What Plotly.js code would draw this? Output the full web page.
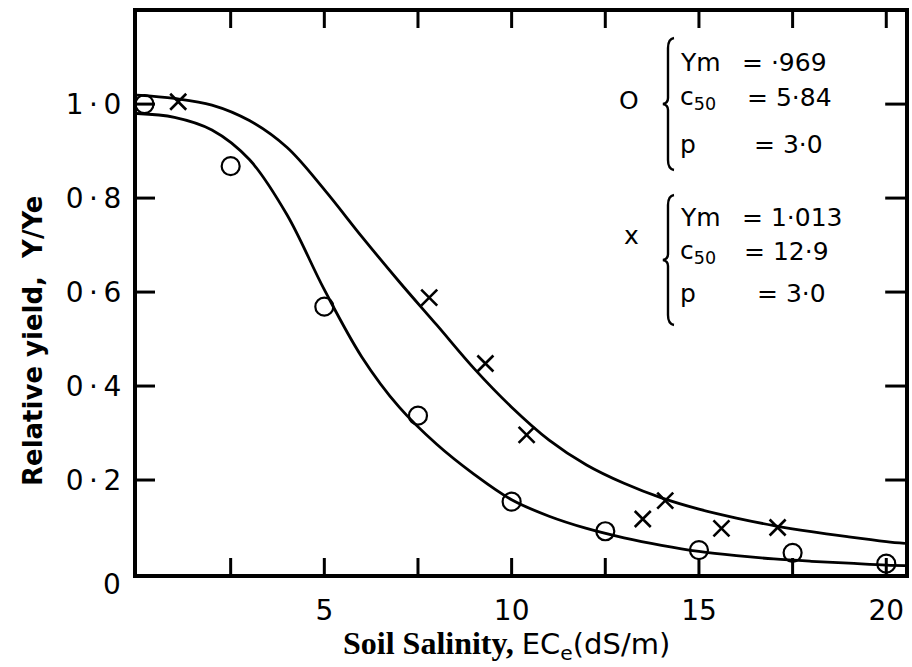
<!DOCTYPE html>
<html>
<head>
<meta charset="utf-8">
<script src="https://cdn.plot.ly/plotly-3.0.1.min.js"></script>
<style>html,body{margin:0;padding:0;background:#fff;}#chart{width:912px;height:667px;}</style>
</head>
<body>
<div id="chart"></div>
<script>
// ---- data ----
const circleX = [0.2, 2.5, 5.0, 7.5, 10.0, 12.5, 15.0, 17.5, 20.0];
const circleY = [1.00, 0.868, 0.569, 0.337, 0.154, 0.091, 0.051, 0.045, 0.022];

const crossX = [1.1, 7.8, 9.3, 10.4, 13.5, 14.1, 15.6, 17.1];
const crossY = [1.005, 0.588, 0.448, 0.296, 0.117, 0.156, 0.097, 0.099];

const fitCircleX = [0, 1, 2, 3, 4, 5, 6, 7, 8, 9, 10, 11, 12, 13, 14, 15, 16, 17, 18, 19, 20, 20.5];
const fitCircleY = [0.980, 0.972, 0.945, 0.882, 0.765, 0.605, 0.462, 0.355, 0.276, 0.212, 0.158, 0.123, 0.097, 0.077, 0.061, 0.048, 0.039, 0.032, 0.027, 0.023, 0.019, 0.018];

const fitCrossX = [0, 1, 2, 3, 4, 5, 6, 7, 8, 9, 10, 11, 12, 13, 14, 15, 16, 17, 18, 19, 20, 20.5];
const fitCrossY = [1.019, 1.012, 0.998, 0.965, 0.908, 0.818, 0.718, 0.622, 0.530, 0.437, 0.355, 0.285, 0.232, 0.193, 0.162, 0.138, 0.119, 0.103, 0.090, 0.079, 0.069, 0.065];

const xTickMarks = [2.5, 5, 7.5, 10, 12.5, 15, 17.5, 20];
const xTickVals = [5, 10, 15, 20];
const xTickText = ['5', '10', '15', '20'];
const yTickVals = [0.2, 0.4, 0.6, 0.8, 1.0];
const yTickText = ['0\u2009·\u20092', '0\u2009·\u20094', '0\u2009·\u20096', '0\u2009·\u20098', '1\u2009·\u20090'];

const xRange = [0, 20.5];
const yRange = [0, 1.196];

// ---- layout helpers (pixel -> paper) ----
const L = 137, R = 905, T = 12, B = 574;
const px = v => (v - L) / (R - L);
const py = v => (B - v) / (B - T);

const SANS = 'DejaVu Sans, sans-serif';

function txt(text, x, y, size, extra) {
  return Object.assign({
    text: text, xref: 'paper', yref: 'paper', x: px(x), y: py(y),
    xanchor: 'left', yanchor: 'middle', showarrow: false,
    font: {family: SANS, size: size, color: '#000'}
  }, extra || {});
}

function brace(x, y0, y1) {
  const ym = (y0 + y1) / 2;
  const X = v => px(v), Y = v => py(v);
  const path = `M ${X(x + 6)},${Y(y0)} Q ${X(x)},${Y(y0 + 1)} ${X(x)},${Y(y0 + 10)} ` +
    `L ${X(x)},${Y(ym - 6)} Q ${X(x)},${Y(ym - 1)} ${X(x - 5)},${Y(ym)} ` +
    `Q ${X(x)},${Y(ym + 1)} ${X(x)},${Y(ym + 6)} L ${X(x)},${Y(y1 - 10)} ` +
    `Q ${X(x)},${Y(y1 - 1)} ${X(x + 6)},${Y(y1)}`;
  return {type: 'path', xref: 'paper', yref: 'paper', path: path,
          line: {color: '#000', width: 2.4}};
}

// tick marks (inside, on all four sides) built from the tick arrays
const tickLenX = (xRange[1] - xRange[0]) * 18 / (R - L);   // horizontal tick length in x units
const tickLenY = (yRange[1] - yRange[0]) * 16 / (B - T);   // vertical tick length in y units
const tkX = [], tkY = [];
xTickMarks.forEach(v => {
  tkX.push(v, v, null, v, v, null);
  tkY.push(yRange[0], yRange[0] + tickLenY, null, yRange[1], yRange[1] - tickLenY, null);
});
yTickVals.forEach(v => {
  tkX.push(xRange[0], xRange[0] + tickLenX, null, xRange[1], xRange[1] - tickLenX * 1.1, null);
  tkY.push(v, v, null, v, v, null);
});

const traces = [
  {x: tkX, y: tkY, mode: 'lines', line: {color: '#000', width: 3}, connectgaps: false, showlegend: false, hoverinfo: 'skip'},
  {x: fitCircleX, y: fitCircleY, mode: 'lines', line: {color: '#000', width: 2.8, shape: 'spline', smoothing: 1.0}, showlegend: false, hoverinfo: 'skip'},
  {x: fitCrossX, y: fitCrossY, mode: 'lines', line: {color: '#000', width: 2.8, shape: 'spline', smoothing: 1.0}, showlegend: false, hoverinfo: 'skip'},
  {x: circleX, y: circleY, mode: 'markers', marker: {symbol: 'circle-open', size: 18, color: '#000', line: {width: 2.2, color: '#000'}}, showlegend: false, cliponaxis: false},
  {x: crossX, y: crossY, mode: 'markers', marker: {symbol: 'x-thin-open', size: 16, color: '#000', line: {width: 2.6, color: '#000'}}, showlegend: false, cliponaxis: false}
];

const annotations = [
  // "0" at origin
  {text: '0', xref: 'paper', yref: 'y', x: 0, y: 0, xanchor: 'right', yanchor: 'middle', xshift: -14, yshift: -10, showarrow: false, font: {family: SANS, size: 28, color: '#000'}},
  // y-axis title
  {text: 'Relative yield,  Y/Ye', xref: 'paper', yref: 'paper', x: px(33), y: py(341), textangle: -90,
   xanchor: 'center', yanchor: 'middle', showarrow: false, font: {family: SANS, size: 26, color: '#000', weight: 'bold'}},
  // x-axis title
  {text: '<span style="font-family:Liberation Serif;font-weight:bold;font-size:32px">Soil Salinity, </span>EC<sub>e</sub>(dS/m)',
   xref: 'paper', yref: 'paper', x: px(506), y: py(645), xanchor: 'center', yanchor: 'middle', showarrow: false,
   font: {family: SANS, size: 29, color: '#000'}},
  // parameter block 1 (circles)
  txt('O', 617, 100, 25),
  txt('Ym', 678, 63, 25),
  txt('= ·969', 740, 63, 25),
  txt('c<sub>50</sub>', 678, 98, 25),
  txt('= 5·84', 745, 98, 25),
  txt('p', 678, 145, 25),
  txt('= 3·0', 752, 145, 25),
  // parameter block 2 (crosses)
  txt('x', 622, 235, 25),
  txt('Ym', 678, 217, 25),
  txt('= 1·013', 740, 217, 25),
  txt('c<sub>50</sub>', 678, 252, 25),
  txt('= 12·9', 742, 252, 25),
  txt('p', 678, 293, 25),
  txt('= 3·0', 755, 293, 25)
];

const layout = {
  width: 912, height: 667,
  margin: {l: L, r: 912 - R, t: T, b: 667 - B, pad: 0},
  paper_bgcolor: '#fff', plot_bgcolor: 'rgba(0,0,0,0)',
  font: {family: SANS, color: '#000'},
  xaxis: {
    range: xRange, tickmode: 'array', tickvals: xTickVals, ticktext: xTickText,
    ticks: '', showline: true, linewidth: 4, linecolor: '#000', mirror: true,
    showgrid: false, zeroline: false, ticklabelstandoff: 8,
    tickfont: {family: SANS, size: 28, color: '#000'}
  },
  yaxis: {
    range: yRange, tickmode: 'array', tickvals: yTickVals, ticktext: yTickText,
    ticks: '', showline: true, linewidth: 4, linecolor: '#000', mirror: true,
    showgrid: false, zeroline: false, ticklabelstandoff: 6,
    tickfont: {family: SANS, size: 28, color: '#000'}
  },
  shapes: [brace(668, 38, 170), brace(668, 195, 325)],
  annotations: annotations,
  showlegend: false
};

Plotly.newPlot('chart', traces, layout, {displayModeBar: false});
</script>
</body>
</html>
